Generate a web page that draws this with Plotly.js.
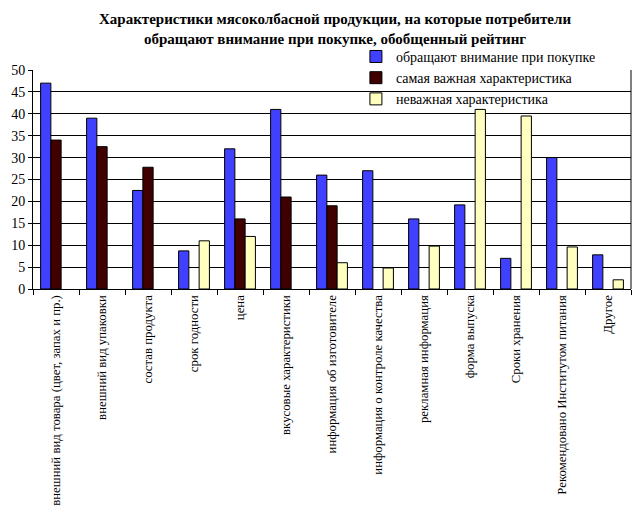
<!DOCTYPE html>
<html><head><meta charset="utf-8">
<script src="https://cdn.plot.ly/plotly-3.0.1.min.js"></script>
<style>body{margin:0;background:#fff}#c{width:636px;height:519px}</style>
</head><body><div id="c"></div>
<script>
const categories = [
  "внешний вид товара (цвет, запах и пр.)",
  "внешний вид упаковки",
  "состав продукта",
  "срок годности",
  "цена",
  "вкусовые характеристики",
  "информация об изготовителе",
  "информация о контроле качества",
  "рекламная информация",
  "форма выпуска",
  "Сроки хранения",
  "Рекомендовано Институтом питания",
  "Другое"
];
const seriesNames = ["обращают внимание при покупке", "самая важная характеристика", "неважная характеристика"];
const attention = [47, 39, 22.5, 8.7, 32, 41, 26, 27, 16, 19.2, 7, 30, 7.8];
const mostImportant = [34, 32.5, 27.8, null, 16, 21, 19, null, null, null, null, null, null];
const unimportant = [null, null, null, 11, 12, null, 6, 4.8, 9.8, 41, 39.5, 9.6, 2.1];
const yTicks = [0, 5, 10, 15, 20, 25, 30, 35, 40, 45, 50];
const titleText = "<b>Характеристики мясоколбасной продукции, на которые потребители<br>обращают внимание при покупке, обобщенный рейтинг</b>";

const colors = ["#4040ff", "#400000", "#ffffc0"];
const vals = [attention, mostImportant, unimportant];
const data = vals.map((v, i) => ({
  type: "bar", x: categories, y: v, name: seriesNames[i],
  marker: {color: colors[i], line: {color: "#000", width: 1}},
  hoverinfo: "skip"
}));
const serif = "Liberation Serif, Times New Roman, serif";
const layout = {
  width: 636, height: 519,
  margin: {l: 33, r: 5, t: 70, b: 230, pad: 0},
  paper_bgcolor: "#fff", plot_bgcolor: "#fff",
  barmode: "group", bargap: 0.33, bargroupgap: 0,
  font: {family: serif, color: "#000"},
  xaxis: {type: "category", tickangle: -90, tickfont: {family: serif, size: 12.8, color: "#000"},
    showline: true, linecolor: "#000", linewidth: 1, ticks: "outside", tickson: "boundaries",
    ticklen: 5, tickcolor: "#000", showgrid: false, fixedrange: true},
  yaxis: {range: [0, 50], tickvals: yTicks, ticktext: yTicks.map(String),
    tickfont: {family: serif, size: 14, color: "#000"},
    showline: true, linecolor: "#000", linewidth: 1, ticks: "outside", ticklen: 4, tickcolor: "#000",
    showgrid: true, gridcolor: "#000", gridwidth: 1, zeroline: false, fixedrange: true},
  legend: {x: 0.54, xanchor: "left", y: 1.133, yanchor: "top", bgcolor: "rgba(0,0,0,0)", borderwidth: 0,
    font: {family: serif, size: 14, color: "#000"}, tracegroupgap: 0},
  annotations: [{text: titleText, xref: "paper", yref: "paper", x: 0.505, y: 1.28, xanchor: "center", yanchor: "top",
    showarrow: false, align: "center", font: {family: serif, size: 15, color: "#000"}}],
  shapes: [
    {type: "rect", xref: "paper", yref: "paper", x0: 0.535, x1: 0.999, y0: 0.832, y1: 1.01, layer: "between",
      fillcolor: "#fff", line: {width: 0}},
    {type: "line", xref: "paper", yref: "paper", x0: 1, x1: 1, y0: 0, y1: 1, line: {color: "#000", width: 1}}
  ]
};
Plotly.newPlot("c", data, layout, {displayModeBar: false, staticPlot: true});
</script></body></html>
